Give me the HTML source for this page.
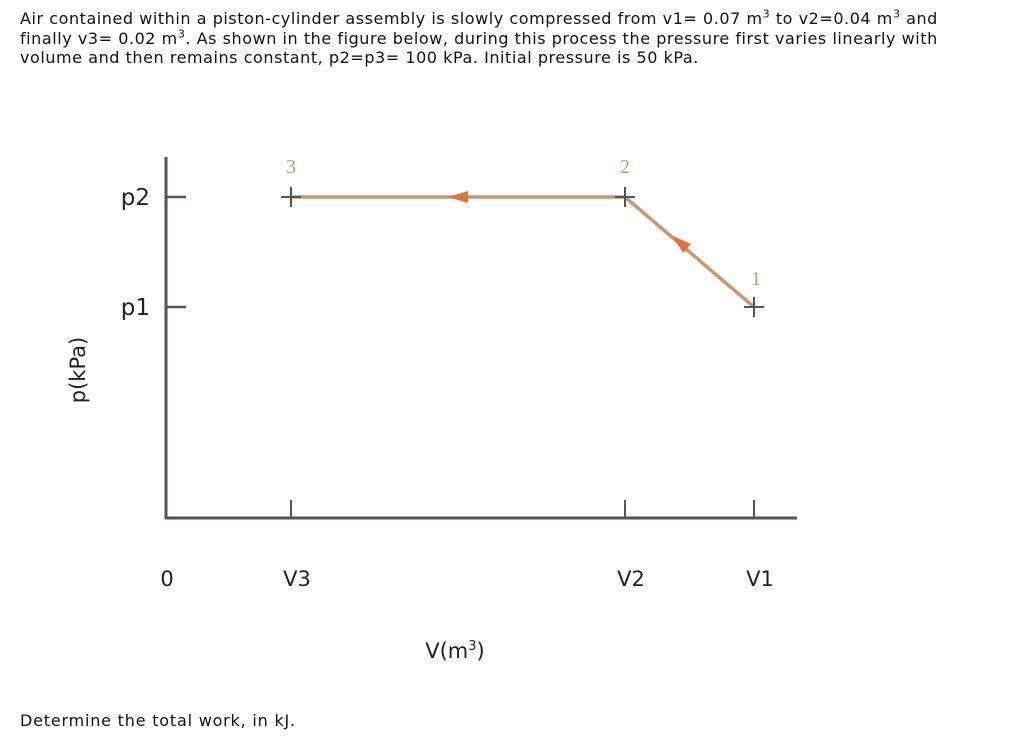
<!DOCTYPE html>
<html><head><meta charset="utf-8"><style>
body{margin:0;width:1024px;height:740px;background:#fff;overflow:hidden;font-family:"DejaVu Sans","Liberation Sans",sans-serif;color:#111}
#q{position:absolute;left:20px;top:9px;font-size:16px;letter-spacing:0.55px;line-height:19.5px;width:1004px;white-space:nowrap}
#d{position:absolute;left:20px;top:711px;font-size:16px;letter-spacing:0.8px}
sup{font-size:11px;line-height:0}
</style></head><body>
<div id="q">Air contained within a piston-cylinder assembly is slowly compressed from v1= 0.07 m<sup>3</sup> to v2=0.04 m<sup>3</sup> and<br>finally v3= 0.02 m<sup>3</sup>. As shown in the figure below, during this process the pressure first varies linearly with<br>volume and then remains constant, p2=p3= 100 kPa. Initial pressure is 50 kPa.</div>
<svg id="c" width="1024" height="740" style="position:absolute;left:0;top:0"></svg>
<div id="d">Determine the total work, in kJ.</div>
<script>
const volumes=[0.07,0.04,0.02];
const pressures=[50,100,100];
const stateLabels=["1","2","3"];
const xTickLabels=["0","V3","V2","V1"];
const xTickValues=[0,0.02,0.04,0.07];
const yTickLabels=["p1","p2"];
const yTickValues=[50,100];
const xr=[167,291,625,754];
function X(v){for(let i=0;i<xTickValues.length-1;i++){if(v<=xTickValues[i+1]||i==xTickValues.length-2){const a=xTickValues[i],b=xTickValues[i+1];return xr[i]+(v-a)/(b-a)*(xr[i+1]-xr[i]);}}}
function Y(p){return 417-p*2.2;}
const s=document.getElementById('c');const NS="http://www.w3.org/2000/svg";
function mk(t,a,txt){const e=document.createElementNS(NS,t);for(const k in a)e.setAttribute(k,a[k]);if(txt!==undefined)e.textContent=txt;s.appendChild(e);return e;}
const ax="#4b5661";
let e=mk('line',{x1:166,y1:157,x2:166,y2:519,stroke:ax,'stroke-width':3});

e=mk('line',{x1:165,y1:518,x2:797,y2:518,stroke:ax,'stroke-width':3});

yTickValues.forEach((p,i)=>{
 e=mk('line',{x1:166,y1:Y(p),x2:186,y2:Y(p),stroke:ax,'stroke-width':2.5});
 
 e=mk('text',{x:150,y:Y(p)+8,'font-size':23,'text-anchor':'end',fill:'#222','font-family':'DejaVu Sans, sans-serif'},yTickLabels[i]);
 
});
xTickValues.forEach((v,i)=>{
 if(i>0){e=mk('line',{x1:X(v),y1:500,x2:X(v),y2:518,stroke:ax,'stroke-width':2});
 }
 e=mk('text',{x:X(v)+(i==0?0:6),y:586,'font-size':21,'text-anchor':'middle',fill:'#222','font-family':'DejaVu Sans, sans-serif'},xTickLabels[i]);
 
});
e=mk('text',{x:85,y:370,'font-size':21,'text-anchor':'middle',fill:'#222',transform:'rotate(-90 85 370)','font-family':'DejaVu Sans, sans-serif'},'p(kPa)');

e=mk('text',{x:455,y:658,'font-size':21,'text-anchor':'middle',fill:'#222','font-family':'DejaVu Sans, sans-serif'});
e.innerHTML='V(m<tspan dy="-8" font-size="13">3</tspan><tspan dy="8">)</tspan>';

for(let i=0;i<volumes.length-1;i++){
 e=mk('line',{x1:X(volumes[i]),y1:Y(pressures[i]),x2:X(volumes[i+1]),y2:Y(pressures[i+1]),stroke:'#c99870','stroke-width':3.5});
 
 const mx=(X(volumes[i])+X(volumes[i+1]))/2,my=(Y(pressures[i])+Y(pressures[i+1]))/2;
 const ang=Math.atan2(Y(pressures[i+1])-Y(pressures[i]),X(volumes[i+1])-X(volumes[i]))*180/Math.PI;
 e=mk('polygon',{points:'10,0 -10,-6 -10,6',fill:'#d9773a',transform:`translate(${mx+(i==0?-10:0)},${my+(i==0?-10:0)}) rotate(${ang})`});
 
}
volumes.forEach((v,i)=>{
 const x=X(v),y=Y(pressures[i]);
 e=mk('path',{d:`M${x-10},${y}H${x+10}M${x},${y-10}V${y+10}`,stroke:ax,'stroke-width':2,fill:'none'});
 
 e=mk('text',{x:x+(i==0?2:0),y:y-(i==0?22:24),'font-size':20,'text-anchor':'middle',fill:'#c99870','font-family':'Liberation Serif, serif'},stateLabels[i]);
 
});
</script>
</body></html>
